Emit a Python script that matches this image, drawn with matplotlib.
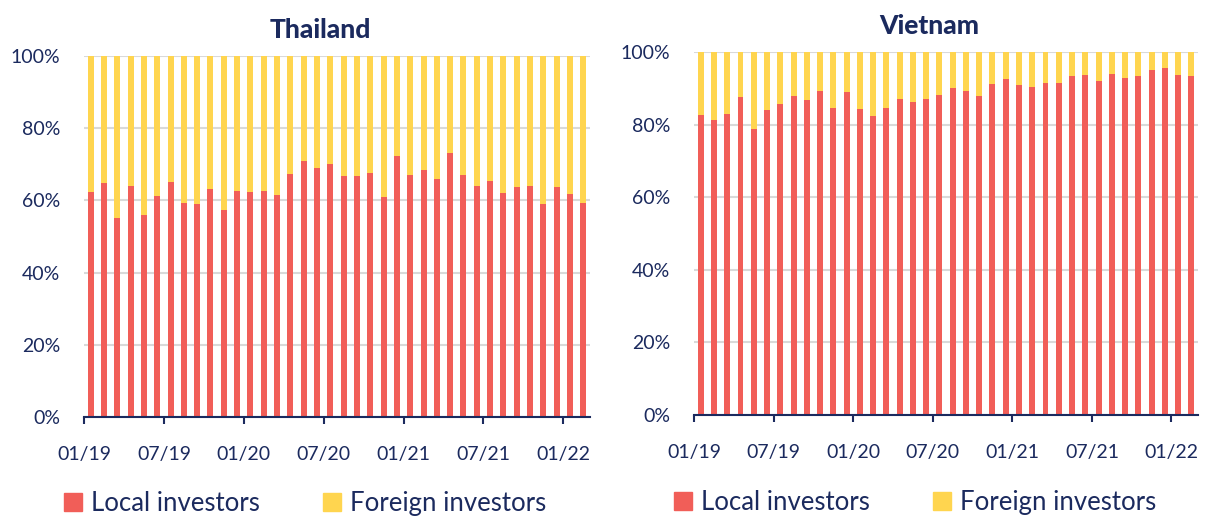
import matplotlib.pyplot as plt
from matplotlib.patches import Patch

plt.rcParams["font.family"] = ["Lato", "DejaVu Sans"]

# monthly share of local investors in stock trading value, 01/19 - 02/22
thailand_local = [62.4, 64.7, 55.2, 64.0, 56.0, 61.3, 65.2, 59.4, 59.1, 63.2,
                  57.2, 62.7, 62.3, 62.7, 61.5, 67.4, 70.8, 69.0, 70.1, 66.8,
                  66.8, 67.6, 60.9, 72.4, 66.9, 68.4, 66.0, 73.1, 66.9, 64.1,
                  65.3, 62.0, 63.6, 64.1, 59.1, 63.6, 61.8, 59.4]
vietnam_local = [82.6, 81.4, 82.8, 87.5, 78.7, 84.0, 85.8, 87.8, 86.8, 89.3,
                 84.7, 88.9, 84.2, 82.3, 84.7, 87.1, 86.3, 87.1, 88.2, 90.0,
                 89.3, 88.0, 91.1, 92.6, 90.9, 90.3, 91.4, 91.5, 93.5, 93.6,
                 92.0, 93.9, 92.9, 93.3, 95.1, 95.5, 93.7, 93.5]
tick_labels = ["01/19", "07/19", "01/20", "07/20", "01/21", "07/21", "01/22"]

RED = "#f15e58"
YELLOW = "#ffd54f"
NAVY = "#1b2a5e"

fig = plt.figure(figsize=(12.05, 5.16), dpi=100)

panels = [
    ("Thailand", thailand_local, [0.0697, 0.1919, 0.4199, 0.6996]),
    ("Vietnam", vietnam_local, [0.576, 0.1957, 0.4182, 0.7035]),
]

for title, local, rect in panels:
    ax = fig.add_axes(rect)
    foreign = [100 - v for v in local]
    x = list(range(len(local)))
    ax.bar(x, local, width=0.45, color=RED, zorder=3)
    ax.bar(x, foreign, bottom=local, width=0.45, color=YELLOW, zorder=3)

    ax.set_xlim(-0.5, len(local) - 0.5)
    ax.set_ylim(0, 100)
    ax.set_yticks([0, 20, 40, 60, 80, 100])
    ax.set_yticklabels([f"{v}%" for v in range(0, 101, 20)])
    ax.set_xticks([i * 6 - 0.5 for i in range(len(tick_labels))])
    ax.set_xticklabels(tick_labels)

    ax.grid(axis="y", color="#d9d9d9", linewidth=1.5, zorder=0)
    for side in ["top", "right", "left"]:
        ax.spines[side].set_visible(False)
    ax.spines["bottom"].set_color(NAVY)
    ax.spines["bottom"].set_linewidth(1.5)
    ax.spines["bottom"].set_zorder(4)
    ax.tick_params(axis="x", colors=NAVY, labelsize=14, length=5, width=1.5,
                   pad=16)
    ax.tick_params(axis="y", colors=NAVY, labelsize=14, length=0, pad=17)

    ax.set_title(title, fontsize=19, fontweight="black", color=NAVY, pad=13,
                 x=0.467)

    handles = [Patch(color=RED, label="Local investors"),
               Patch(color=YELLOW, label="Foreign investors")]
    ax.legend(handles=handles, loc="center left", ncol=2, frameon=False,
              bbox_to_anchor=(-0.04, -0.24), fontsize=18.5, labelcolor=NAVY,
              handlelength=0.7, handleheight=0.7, handletextpad=0.35,
              columnspacing=2.45, borderpad=0, borderaxespad=0)

plt.savefig("out.png", dpi=100)
